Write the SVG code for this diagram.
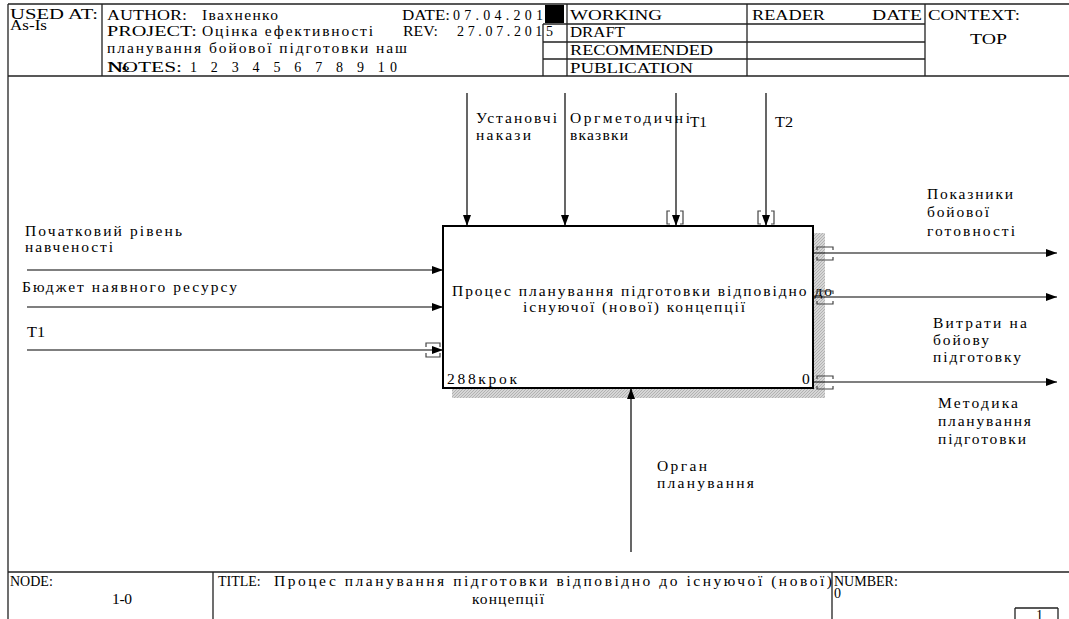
<svg xmlns="http://www.w3.org/2000/svg" width="1069" height="619" viewBox="0 0 1069 619">
<style>
.t{font-family:"Liberation Serif","Times New Roman",serif;font-size:15.5px;fill:#000}
.l{font-family:"Liberation Serif","Times New Roman",serif;font-size:14px;fill:#000}
.fr{stroke:#222;stroke-width:1.3;fill:none}
.cn{stroke:#000;stroke-width:1.2;fill:none}
.br{stroke:#444;stroke-width:1.2;fill:none}
</style>
<defs>
<marker id="ah" markerUnits="userSpaceOnUse" markerWidth="11" markerHeight="8" refX="11" refY="4" orient="auto">
<path d="M0,0 L11,4 L0,8 z" fill="#000"/>
</marker>
<pattern id="hatch" width="3" height="3" patternUnits="userSpaceOnUse">
<rect width="3" height="3" fill="#d6d6d6"/>
<path d="M0,3 L3,0" stroke="#a8a8a8" stroke-width="0.8"/>
</pattern>
</defs>
<rect width="1069" height="619" fill="#fff"/>

<g id="header">
<path class="fr" d="M8,4 H1069 M8,4 V619 M8,76 H1069 M102,4 V76 M543,24 V76 M567,4 V76 M747,4 V76 M925,4 V76 M543,24 H925 M543,42 H925 M543,59 H925"/>
<rect x="545" y="5" width="19" height="18" fill="#000"/>
<text class="l" x="10" y="19" textLength="88" lengthAdjust="spacingAndGlyphs">USED AT:</text>
<text class="l" x="10" y="30" textLength="37" lengthAdjust="spacingAndGlyphs">As-Is</text>
<text class="l" x="107" y="20" textLength="80" lengthAdjust="spacingAndGlyphs">AUTHOR:</text>
<text class="t" x="202" y="20" textLength="76" lengthAdjust="spacing">Івахненко</text>
<text class="l" x="107" y="36" textLength="90" lengthAdjust="spacingAndGlyphs">PROJECT:</text>
<text class="t" x="202" y="36" textLength="171" lengthAdjust="spacing">Оцінка ефективності</text>
<text class="t" x="107" y="53" textLength="300" lengthAdjust="spacing">планування бойової підготовки наш</text>
<text class="l" x="107" y="72" textLength="75" lengthAdjust="spacingAndGlyphs">NOTES:</text>
<text class="l" x="108" y="72" textLength="22" lengthAdjust="spacingAndGlyphs">№</text>
<text class="l" x="190" y="72" textLength="207" lengthAdjust="spacing">1  2  3  4  5  6  7  8  9  10</text>
<text class="l" x="402" y="20" textLength="48" lengthAdjust="spacingAndGlyphs">DATE:</text>
<text class="l" x="453" y="20" textLength="90" lengthAdjust="spacing">07.04.201</text>
<text class="l" x="403" y="36" textLength="35" lengthAdjust="spacingAndGlyphs">REV:</text>
<text class="l" x="457" y="36" textLength="96" lengthAdjust="spacing">27.07.2015</text>
<text class="l" x="570" y="20" textLength="92" lengthAdjust="spacingAndGlyphs">WORKING</text>
<text class="l" x="570" y="37" textLength="55" lengthAdjust="spacingAndGlyphs">DRAFT</text>
<text class="l" x="570" y="55" textLength="143" lengthAdjust="spacingAndGlyphs">RECOMMENDED</text>
<text class="l" x="570" y="73" textLength="123" lengthAdjust="spacingAndGlyphs">PUBLICATION</text>
<text class="l" x="752" y="20" textLength="73" lengthAdjust="spacingAndGlyphs">READER</text>
<text class="l" x="872" y="20" textLength="50" lengthAdjust="spacingAndGlyphs">DATE</text>
<text class="l" x="928" y="20" textLength="92" lengthAdjust="spacingAndGlyphs">CONTEXT:</text>
<text class="l" x="970" y="44" textLength="37" lengthAdjust="spacingAndGlyphs">TOP</text>
</g>

<g id="node-A0">
<path d="M813,233 H825 V398 H452 V388 H813 Z" fill="url(#hatch)"/>
<rect x="443" y="226" width="370" height="162" fill="#fff" stroke="#000" stroke-width="2"/>
<text class="t" x="452" y="296" textLength="380" lengthAdjust="spacing">Процес планування підготовки відповідно до</text>
<text class="t" x="523" y="312" textLength="222" lengthAdjust="spacing">існуючої (нової) концепції</text>
<text class="t" x="447" y="384" textLength="70" lengthAdjust="spacing">288крок</text>
<text class="t" x="802" y="384">0</text>
</g>

<g id="connectors">
<path class="cn" marker-end="url(#ah)" d="M467,93 V226"/>
<path class="cn" marker-end="url(#ah)" d="M565,93 V226"/>
<path class="cn" marker-end="url(#ah)" d="M676,93 V226"/>
<path class="cn" marker-end="url(#ah)" d="M766,93 V226"/>
<path class="cn" marker-end="url(#ah)" d="M27,270 H443"/>
<path class="cn" marker-end="url(#ah)" d="M27,307 H443"/>
<path class="cn" marker-end="url(#ah)" d="M27,350 H443"/>
<path class="cn" marker-end="url(#ah)" d="M813,253 H1057"/>
<path class="cn" marker-end="url(#ah)" d="M813,297 H1057"/>
<path class="cn" marker-end="url(#ah)" d="M813,382 H1057"/>
<path class="cn" marker-end="url(#ah)" d="M631,552 V388"/>
<path class="br" d="M670,211 H667 V224 H670 M680,211 H683 V224 H680"/>
<path class="br" d="M761,211 H758 V224 H761 M771,211 H774 V224 H771"/>
<path class="br" d="M426,347 V343 H440 V347 M426,353 V357 H440 V353"/>
<path class="br" d="M817,250 V247 H833 V250 M817,257 V260 H833 V257"/>
<path class="br" d="M817,294 V291 H833 V294 M817,301 V304 H833 V301"/>
<path class="br" d="M817,379 V376 H833 V379 M817,386 V389 H833 V386"/>
<text class="t" x="476" y="123" textLength="81" lengthAdjust="spacing">Установчі</text>
<text class="t" x="476" y="140" textLength="55" lengthAdjust="spacing">накази</text>
<text class="t" x="570" y="123" textLength="120" lengthAdjust="spacing">Оргметодичні</text>
<text class="t" x="570" y="140" textLength="58" lengthAdjust="spacing">вказвки</text>
<text class="l" x="690" y="127" textLength="17" lengthAdjust="spacingAndGlyphs">T1</text>
<text class="l" x="775" y="127" textLength="18" lengthAdjust="spacingAndGlyphs">T2</text>
<text class="t" x="25" y="236" textLength="157" lengthAdjust="spacing">Початковий рівень</text>
<text class="t" x="25" y="252" textLength="88" lengthAdjust="spacing">навченості</text>
<text class="t" x="22" y="292" textLength="215" lengthAdjust="spacing">Бюджет наявного ресурсу</text>
<text class="l" x="27" y="337" textLength="18" lengthAdjust="spacingAndGlyphs">T1</text>
<text class="t" x="927" y="199" textLength="86" lengthAdjust="spacing">Показники</text>
<text class="t" x="927" y="217" textLength="62" lengthAdjust="spacing">бойової</text>
<text class="t" x="927" y="236" textLength="88" lengthAdjust="spacing">готовності</text>
<text class="t" x="933" y="328" textLength="94" lengthAdjust="spacing">Витрати на</text>
<text class="t" x="933" y="345" textLength="56" lengthAdjust="spacing">бойову</text>
<text class="t" x="933" y="362" textLength="88" lengthAdjust="spacing">підготовку</text>
<text class="t" x="938" y="408" textLength="80" lengthAdjust="spacing">Методика</text>
<text class="t" x="938" y="426" textLength="93" lengthAdjust="spacing">планування</text>
<text class="t" x="938" y="444" textLength="88" lengthAdjust="spacing">підготовки</text>
<text class="t" x="657" y="471" textLength="50" lengthAdjust="spacing">Орган</text>
<text class="t" x="657" y="488" textLength="97" lengthAdjust="spacing">планування</text>
</g>

<g id="footer">
<path class="fr" d="M8,572 H1069 M213,572 V619 M832,572 V619 M1015,608 H1058 M1015,608 V619 M1058,608 V619"/>
<text class="l" x="10" y="586">NODE:</text>
<text class="t" x="112" y="604" textLength="20" lengthAdjust="spacing">1-0</text>
<text class="l" x="218" y="586">TITLE:</text>
<text class="t" x="274" y="586" textLength="558" lengthAdjust="spacing">Процес планування підготовки відповідно до існуючої (нової)</text>
<text class="t" x="472" y="604" textLength="72" lengthAdjust="spacing">концепції</text>
<text class="l" x="834" y="586">NUMBER:</text>
<text class="l" x="834" y="598">0</text>
<text class="l" x="1036" y="620">1</text>
</g>
</svg>
